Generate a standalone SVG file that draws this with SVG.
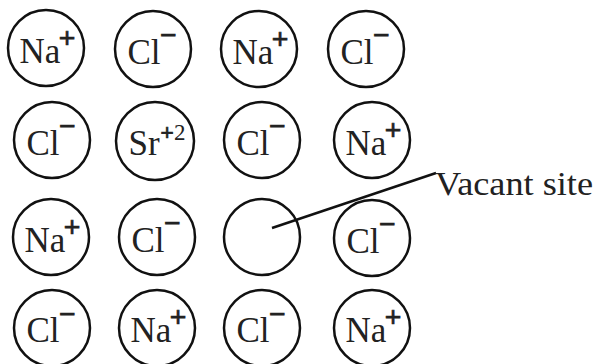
<svg xmlns="http://www.w3.org/2000/svg" width="597" height="364" viewBox="0 0 597 364">
<style>
circle{fill:none;stroke:#111;stroke-width:2.5}
text{font-family:"Liberation Serif","Times New Roman",serif;fill:#222}
.m{font-size:35px;text-anchor:middle}
.s{font-size:30px;font-weight:bold;text-anchor:middle;stroke:#222;stroke-width:0.6}
.p{font-size:24px}
.d{font-size:23px}
.t{font-size:34px}
</style>
<rect width="597" height="364" fill="#fff"/>
<g id="connectors">
<line x1="272" y1="228" x2="436" y2="173" stroke="#111" stroke-width="2.5"/>
</g>
<g id="r1c1"><circle cx="46" cy="48" r="38"/><text class="m" x="40" y="63">Na</text><text class="s" x="67" y="48">+</text></g>
<g id="r1c2"><circle cx="153" cy="49" r="38"/><text class="m" x="144" y="64">Cl</text><text class="s" x="168" y="45">−</text></g>
<g id="r1c3"><circle cx="259" cy="49" r="38"/><text class="m" x="253" y="64">Na</text><text class="s" x="280" y="49">+</text></g>
<g id="r1c4"><circle cx="366" cy="49" r="38"/><text class="m" x="357" y="64">Cl</text><text class="s" x="381" y="45">−</text></g>

<g id="r2c1"><circle cx="52" cy="140" r="38"/><text class="m" x="43" y="155">Cl</text><text class="s" x="67" y="136">−</text></g>
<g id="r2c2"><circle cx="155" cy="141" r="39"/><text class="m" x="144" y="155">Sr</text><text class="s p" x="167" y="140">+</text><text class="d" x="174" y="140">2</text></g>
<g id="r2c3"><circle cx="262" cy="140" r="38"/><text class="m" x="253" y="155">Cl</text><text class="s" x="277" y="136">−</text></g>
<g id="r2c4"><circle cx="372" cy="140" r="38"/><text class="m" x="366" y="155">Na</text><text class="s" x="393" y="140">+</text></g>

<g id="r3c1"><circle cx="51" cy="237" r="38"/><text class="m" x="45" y="252">Na</text><text class="s" x="72" y="237">+</text></g>
<g id="r3c2"><circle cx="157" cy="237" r="38"/><text class="m" x="148" y="252">Cl</text><text class="s" x="172" y="233">−</text></g>
<g id="r3c3"><circle cx="262" cy="237" r="38"/></g>
<g id="r3c4"><circle cx="372" cy="238" r="38"/><text class="m" x="363" y="253">Cl</text><text class="s" x="387" y="234">−</text></g>

<g id="r4c1"><circle cx="52" cy="328" r="38"/><text class="m" x="43" y="342">Cl</text><text class="s" x="67" y="324">−</text></g>
<g id="r4c2"><circle cx="157" cy="328" r="38"/><text class="m" x="151" y="342">Na</text><text class="s" x="178" y="327">+</text></g>
<g id="r4c3"><circle cx="262" cy="328" r="38"/><text class="m" x="253" y="342">Cl</text><text class="s" x="277" y="324">−</text></g>
<g id="r4c4"><circle cx="372" cy="328" r="38"/><text class="m" x="366" y="342">Na</text><text class="s" x="393" y="327">+</text></g>

<g id="label"><text class="t" x="435" y="195" textLength="158" lengthAdjust="spacingAndGlyphs">Vacant site</text></g>
</svg>
